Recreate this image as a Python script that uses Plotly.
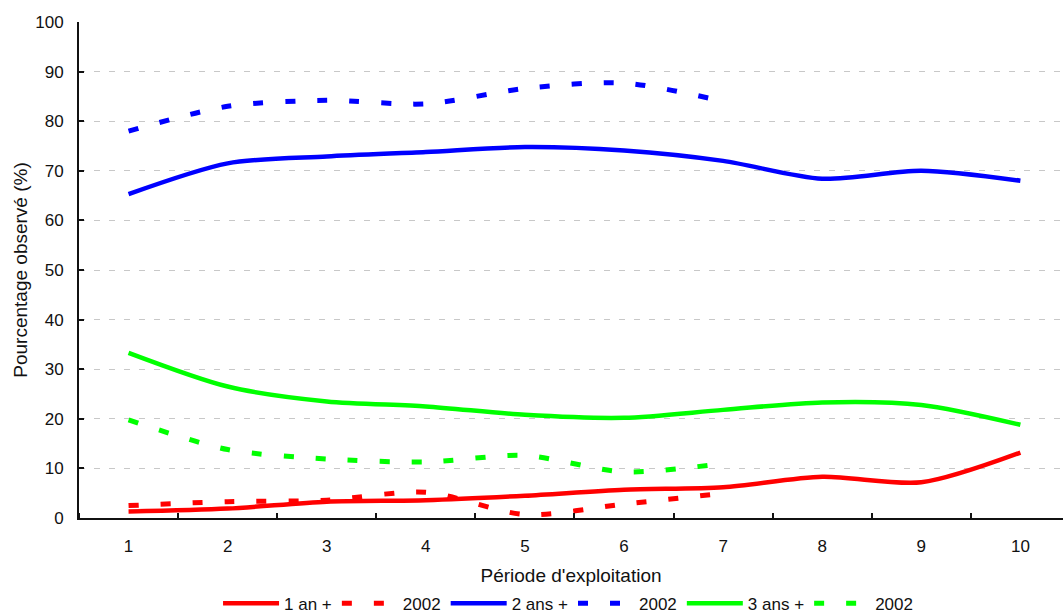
import plotly.graph_objects as go

# Période d'exploitation
periodes = [1, 2, 3, 4, 5, 6, 7, 8, 9, 10]
periodes_2002 = [1, 2, 3, 4, 5, 6, 7]

# Pourcentage observé (%) par ancienneté
un_an = [1.3, 1.9, 3.3, 3.6, 4.5, 5.7, 6.2, 8.3, 7.2, 13.2]
un_an_2002 = [2.5, 3.3, 3.6, 5.2, 0.7, 2.8, 5.0]
deux_ans = [65.3, 71.5, 72.9, 73.8, 74.8, 74.1, 72.0, 68.4, 70.0, 68.0]
deux_ans_2002 = [78.0, 83.0, 84.2, 83.5, 86.6, 87.7, 84.0]
trois_ans = [33.3, 26.5, 23.5, 22.5, 20.8, 20.2, 21.8, 23.3, 22.8, 18.8]
trois_ans_2002 = [19.8, 13.8, 11.9, 11.3, 12.6, 9.3, 11.0]

ROUGE, BLEU, VERT = "#ff0000", "#0000ff", "#00ff00"
DASH = "10px,22px"

series = [
    ("1 an +", periodes, un_an, ROUGE, "solid"),
    ("2002", periodes_2002, un_an_2002, ROUGE, DASH),
    ("2 ans +", periodes, deux_ans, BLEU, "solid"),
    ("2002", periodes_2002, deux_ans_2002, BLEU, DASH),
    ("3 ans +", periodes, trois_ans, VERT, "solid"),
    ("2002", periodes_2002, trois_ans_2002, VERT, DASH),
]

fig = go.Figure()
for nom, x, y, couleur, trait in series:
    fig.add_trace(go.Scatter(
        x=x, y=y, name=nom, mode="lines",
        line=dict(color=couleur, width=5 if trait != "solid" else 4.5,
                  dash=trait, shape="spline", smoothing=0.8),
    ))

FONT = "Liberation Sans, Arial, sans-serif"

fig.update_layout(
    width=1063, height=613,
    paper_bgcolor="white", plot_bgcolor="white",
    margin=dict(l=79, r=0, t=22, b=95),
    font=dict(family=FONT, size=17, color="#111"),
    showlegend=True,
    legend=dict(orientation="h", x=0.497, xanchor="center",
                yref="container", y=0.015, yanchor="middle",
                font=dict(size=17), itemwidth=56, tracegroupgap=0),
)

fig.update_xaxes(
    range=[0.5, 10.43], tickmode="array", tickvals=periodes,
    ticks="", ticklabelstandoff=12, automargin=False,
    showline=True, linecolor="#111", linewidth=2,
    showgrid=False, zeroline=False,
    minor=dict(tickmode="linear", tick0=0.5, dtick=1, ticks="inside",
               ticklen=5, tickcolor="#111", tickwidth=1.5, showgrid=False),
    title=dict(text="Période d'exploitation", font=dict(size=19), standoff=13),
)

fig.update_yaxes(
    range=[0, 100], tickmode="linear", tick0=0, dtick=10,
    ticks="inside", ticklen=5, tickcolor="#111", tickwidth=1.5,
    ticklabelstandoff=10, automargin=False,
    showline=True, linecolor="#111", linewidth=2,
    showgrid=True, gridcolor="#c8c8c8", gridwidth=1, griddash="6px,9px",
    zeroline=False,
    title=dict(text="Pourcentage observé (%)", font=dict(size=19), standoff=3),
)

fig.write_html("out.html")
